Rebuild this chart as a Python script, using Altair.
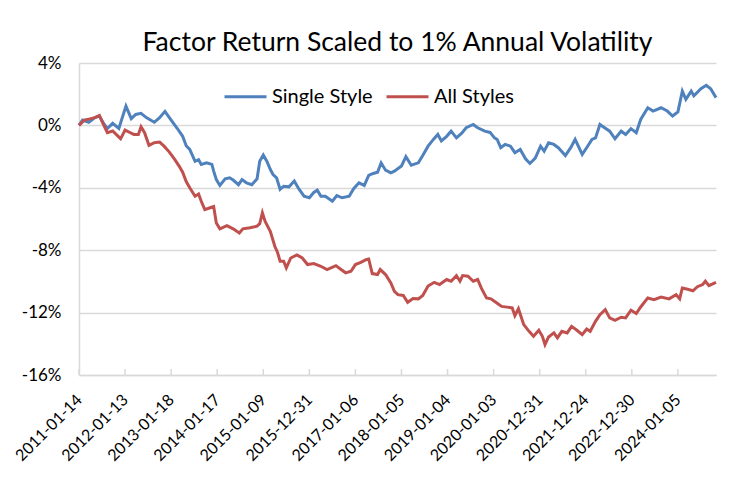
import altair as alt
import pandas as pd

# Category (weekly) axis: tick every 52 weeks, labelled with the week's date
tick_labels = ["2011-01-14", "2012-01-13", "2013-01-18", "2014-01-17", "2015-01-09",
               "2015-12-31", "2017-01-06", "2018-01-05", "2019-01-04", "2020-01-03",
               "2020-12-31", "2021-12-24", "2022-12-30", "2024-01-05"]
tick_weeks = [0, 52, 104, 156, 208, 260, 312, 364, 416, 468, 520, 572, 624, 676]
last_week = 719

single_week = [0, 4, 11, 18, 23, 27, 32, 38, 45, 53, 59, 64, 70, 76, 85, 91, 97, 104, 111, 117,
               121, 125, 131, 135, 138, 144, 150, 152, 155, 159, 165, 170, 174, 180, 184, 189, 195,
               201, 204, 208, 212, 216, 219, 223, 227, 231, 237, 243, 248, 254, 260, 265, 269, 273,
               278, 286, 291, 297, 305, 310, 316, 322, 327, 332, 337, 341, 346, 352, 356, 364, 369,
               375, 383, 388, 394, 400, 405, 409, 415, 420, 426, 432, 437, 445, 450, 458, 464, 469,
               472, 476, 481, 487, 492, 498, 504, 509, 515, 521, 525, 530, 536, 541, 549, 555, 560,
               568, 573, 579, 583, 588, 592, 599, 605, 612, 617, 623, 629, 634, 642, 648, 657, 664,
               670, 676, 681, 685, 691, 694, 702, 708, 713, 719]
single_ret = [0.0, 0.34, 0.2, 0.5, 0.6, 0.2, -0.2, 0.13, -0.2, 1.24, 0.43, 0.7, 0.77, 0.5, 0.2, 0.5,
              0.9, 0.34, -0.2, -0.7, -1.3, -1.54, -2.3, -2.2, -2.5, -2.4, -2.5, -2.93, -3.47, -3.85,
              -3.42, -3.36, -3.5, -3.8, -3.47, -3.68, -3.8, -3.42, -2.3, -1.9, -2.3, -2.83, -3.15,
              -3.36, -4.1, -3.9, -3.94, -3.57, -4.06, -4.54, -4.64, -4.3, -4.15, -4.54, -4.54,
              -4.86, -4.5, -4.64, -4.54, -4.06, -3.68, -3.85, -3.2, -3.08, -3.0, -2.4, -2.87, -3.04,
              -2.93, -2.6, -2.0, -2.55, -2.4, -1.93, -1.33, -0.9, -0.58, -1.0, -0.7, -0.37, -0.8,
              -0.5, -0.15, 0.06, -0.15, -0.37, -0.45, -0.8, -0.9, -1.43, -1.22, -1.33, -1.75, -1.54,
              -2.14, -2.44, -2.1, -1.33, -1.65, -1.11, -1.22, -1.43, -1.93, -1.43, -0.9, -1.86,
              -1.43, -0.9, -0.8, 0.06, -0.1, -0.37, -0.86, -0.37, -0.58, -0.21, -0.47, 0.38, 1.13,
              0.92, 1.13, 0.92, 0.6, 0.87, 2.2, 1.67, 2.2, 1.9, 2.35, 2.57, 2.35, 1.78]

all_week = [0, 6, 11, 18, 23, 27, 32, 38, 44, 47, 52, 58, 62, 67, 70, 74, 79, 85, 91, 96, 102, 108,
            113, 117, 121, 125, 131, 135, 138, 142, 148, 152, 155, 159, 167, 174, 181, 185, 193, 201,
            204, 207, 210, 216, 221, 224, 227, 231, 234, 239, 246, 252, 258, 265, 273, 280, 290, 295,
            301, 307, 312, 318, 324, 327, 331, 337, 340, 346, 352, 356, 360, 366, 371, 377, 383, 388,
            394, 401, 407, 415, 420, 426, 430, 433, 439, 445, 450, 454, 460, 465, 472, 477, 483, 489,
            492, 496, 502, 508, 513, 519, 523, 526, 530, 536, 540, 545, 551, 556, 562, 568, 573, 577,
            583, 588, 594, 599, 605, 612, 617, 623, 629, 634, 642, 649, 657, 666, 674, 678, 681, 687,
            693, 698, 704, 707, 711, 719]
all_ret = [0.0, 0.34, 0.4, 0.5, 0.64, 0.13, -0.47, -0.36, -0.69, -0.86, -0.3, -0.47, -0.58, -0.58,
           -0.09, -0.47, -1.28, -1.11, -1.07, -1.33, -1.71, -2.18, -2.61, -3.0, -3.6, -4.0, -4.54,
           -4.4, -4.86, -5.4, -5.28, -5.2, -6.25, -6.63, -6.42, -6.63, -6.9, -6.63, -6.56, -6.46,
           -6.3, -5.6, -6.14, -6.8, -7.75, -8.13, -8.71, -8.71, -9.13, -8.5, -8.3, -8.5, -8.92,
           -8.86, -9.03, -9.24, -8.99, -9.2, -9.45, -9.35, -8.92, -8.78, -8.6, -8.56, -9.5, -9.56,
           -9.24, -9.56, -10.1, -10.64, -10.85, -10.9, -11.34, -11.1, -11.12, -10.9, -10.3, -10.06,
           -10.2, -9.88, -9.99, -9.63, -9.99, -9.63, -9.67, -9.99, -9.88, -10.42, -11.06, -11.12,
           -11.4, -11.6, -11.65, -11.7, -12.2, -11.75, -12.77, -13.2, -13.52, -13.13, -13.52,
           -14.05, -13.56, -13.3, -13.62, -13.2, -13.3, -12.88, -13.13, -13.41, -13.05, -13.2,
           -12.56, -12.13, -11.81, -12.34, -12.5, -12.3, -12.34, -11.85, -12.06, -11.64, -11.06,
           -11.17, -11.0, -11.12, -10.85, -11.12, -10.42, -10.5, -10.6, -10.34, -10.2, -9.99,
           -10.27, -10.06]

series_names = ["Single Style", "All Styles"]
series_colors = ["#4F81BD", "#C0504D"]
y_ticks = [-16, -12, -8, -4, 0, 4]

df = pd.concat([
    pd.DataFrame({"week": single_week, "ret": single_ret, "series": series_names[0], "order": 0}),
    pd.DataFrame({"week": all_week, "ret": all_ret, "series": series_names[1], "order": 1}),
], ignore_index=True)
ticks_df = pd.DataFrame({"week": tick_weeks})

FONT = "Lato"
W, H = 637, 312

label_expr = "[" + ",".join(f"'{t}'" for t in tick_labels) + "][round(datum.value / 52)]"

x_scale = alt.Scale(domain=[0, last_week], nice=False, zero=False)
y_scale = alt.Scale(domain=[-16, 4], nice=False)

lines = alt.Chart(df).mark_line(strokeWidth=3).encode(
    x=alt.X("week:Q", scale=x_scale, title=None,
            axis=alt.Axis(values=tick_weeks, labelExpr=label_expr, labelAngle=-45,
                          labelAlign="right", labelBaseline="middle",
                          labelFont=FONT, labelFontSize=16, labelColor="#000000",
                          labelPadding=22, ticks=False, grid=False,
                          domainColor="#d9d9d9", domainWidth=1.5, labelOverlap=False)),
    y=alt.Y("ret:Q", scale=y_scale, title=None,
            axis=alt.Axis(values=y_ticks, labelExpr="datum.value + '%'",
                          labelFont=FONT, labelFontSize=17, labelColor="#000000",
                          labelPadding=18, ticks=False, grid=True, gridColor="#d9d9d9",
                          gridWidth=1.5, domainColor="#d9d9d9", domainWidth=1.5)),
    color=alt.Color("series:N",
                    scale=alt.Scale(domain=series_names, range=series_colors),
                    legend=alt.Legend(title=None, orient="none", legendX=144, legendY=11,
                                      direction="horizontal", symbolType="stroke",
                                      symbolSize=1764, symbolStrokeWidth=3,
                                      labelFont=FONT, labelFontSize=20, labelColor="#000000",
                                      labelOffset=4, columnPadding=7)),
    order="order:Q",
)

tick_marks = alt.Chart(ticks_df).mark_rule(color="#d9d9d9", strokeWidth=1.5).encode(
    x=alt.X("week:Q", scale=x_scale),
    y=alt.value(H),
    y2=alt.value(H - 6),
)

chart = alt.layer(tick_marks, lines).properties(
    width=W, height=H,
    title=alt.Title("Factor Return Scaled to 1% Annual Volatility", font=FONT, fontSize=26.5,
                    fontWeight="normal", color="#000000", anchor="middle", offset=-2),
    autosize=alt.AutoSizeParams(type="none"),
    padding={"left": 71, "top": 55, "right": 20, "bottom": 113},
).configure_view(stroke=None)

chart.save("out.html", embed_options={"renderer": "svg", "actions": False})
